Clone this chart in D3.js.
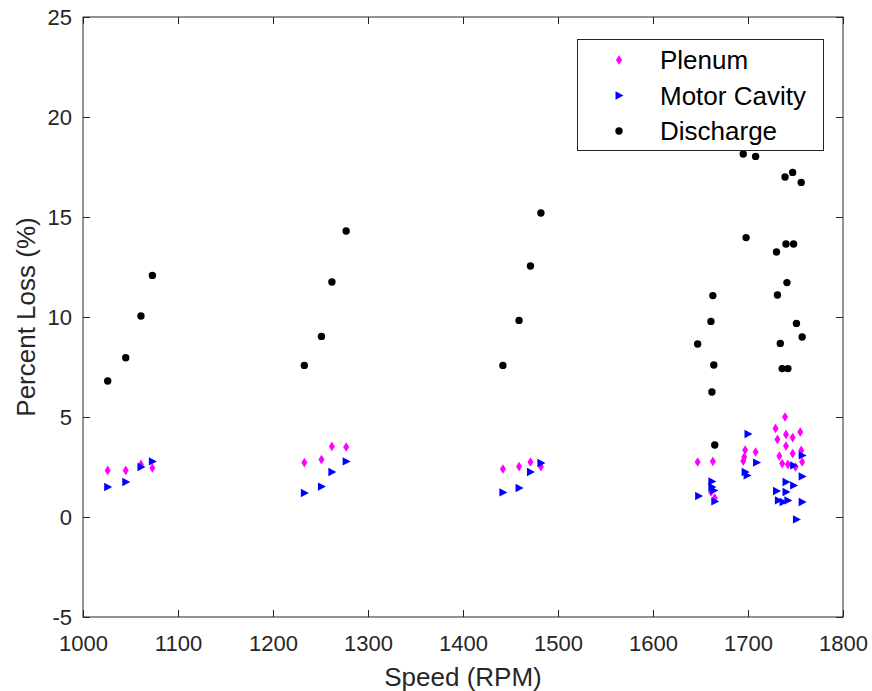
<!DOCTYPE html>
<meta charset="UTF-8">
<style>
  body { margin: 0; background: #fff; }
  svg { display: block; font-family: "Liberation Sans", Arial, sans-serif; }
  .axis path { display: none; }
  .axis line { stroke: #262626; stroke-width: 1px; }
  .axis text { fill: #262626; font-size: 22px; }
  .frame { fill: none; stroke: #262626; stroke-width: 1px; }
  .label { fill: #262626; font-size: 26px; }
  .legend text { fill: #000; font-size: 26px; }
</style>
<body>
  <script src="https://cdn.jsdelivr.net/npm/d3@7"></script>
  <script>
    // values
    var plenumSpeed = [1026, 1045, 1061, 1073, 1233, 1251, 1262, 1277, 1442, 1459, 1471, 1482,
      1647, 1663, 1661, 1665, 1697, 1696, 1695, 1708,
      1739, 1729, 1755, 1740, 1731, 1747, 1740, 1756, 1733, 1747, 1736, 1742, 1757, 1750];
    var plenumLoss = [2.33, 2.33, 2.63, 2.45, 2.72, 2.87, 3.53, 3.5, 2.4, 2.52, 2.75, 2.52,
      2.75, 2.78, 1.25, 0.95, 3.35, 3.0, 2.8, 3.25,
      5.0, 4.43, 4.25, 4.13, 3.88, 3.97, 3.55, 3.33, 3.05, 3.17, 2.67, 2.63, 2.75, 2.5];

    var motorSpeed = [1026, 1045, 1061, 1073, 1233, 1251, 1262, 1277, 1442, 1459, 1471, 1482,
      1662, 1662, 1664, 1648, 1665, 1700, 1709, 1697, 1699,
      1757, 1748, 1757, 1740, 1748, 1730, 1740, 1732, 1737, 1742, 1757, 1751];
    var motorLoss = [1.5, 1.75, 2.5, 2.78, 1.2, 1.52, 2.25, 2.78, 1.23, 1.45, 2.25, 2.7,
      1.78, 1.5, 1.33, 1.05, 0.78, 4.15, 2.72, 2.25, 2.08,
      3.08, 2.58, 2.03, 1.75, 1.58, 1.3, 1.25, 0.83, 0.75, 0.83, 0.75, -0.12];

    var dischargeSpeed = [1026, 1045, 1061, 1073, 1233, 1251, 1262, 1277, 1442, 1459, 1471, 1482,
      1647, 1661, 1663, 1664, 1662, 1665, 1695, 1698, 1708,
      1739, 1747, 1756, 1740, 1748, 1730, 1741, 1731, 1751, 1757, 1734, 1736, 1742];
    var dischargeLoss = [6.8, 7.96, 10.05, 12.08, 7.58, 9.03, 11.75, 14.3, 7.58, 9.83, 12.55, 15.2,
      8.65, 9.78, 11.07, 7.6, 6.25, 3.6, 18.15, 13.97, 18.03,
      17.0, 17.23, 16.73, 13.65, 13.65, 13.25, 11.72, 11.1, 9.68, 9.0, 8.68, 7.42, 7.42];

    var xTicks = [1000, 1100, 1200, 1300, 1400, 1500, 1600, 1700, 1800];
    var yTicks = [-5, 0, 5, 10, 15, 20, 25];
    var seriesNames = ["Plenum", "Motor Cavity", "Discharge"];
    var seriesColors = ["#ff00ff", "#0000ff", "#000000"];

    var W = 872, H = 691;
    var margin = { top: 17, right: 29, bottom: 74, left: 83 },
      width = W - margin.left - margin.right,
      height = H - margin.top - margin.bottom;

    var svg = d3.select("body").append("svg")
      .attr("width", W)
      .attr("height", H);

    var g = svg.append("g")
      .attr("transform", "translate(" + margin.left + "," + margin.top + ")");

    var x = d3.scaleLinear().domain([1000, 1800]).range([0, width]);
    var y = d3.scaleLinear().domain([-5, 25]).range([height, 0]);

    // plain hyphen for negatives, like the original
    var fmt = function(d) { return String(d); };

    // axes, ticks pointing inward like matlab
    g.append("g").attr("class", "axis")
      .attr("transform", "translate(0," + height + ")")
      .call(d3.axisBottom(x).tickValues(xTicks).tickFormat(fmt)
        .tickSizeInner(-7).tickSizeOuter(0).tickPadding(18));
    g.append("g").attr("class", "axis")
      .call(d3.axisTop(x).tickValues(xTicks).tickFormat("")
        .tickSizeInner(-7).tickSizeOuter(0));
    g.append("g").attr("class", "axis")
      .call(d3.axisLeft(y).tickValues(yTicks).tickFormat(fmt)
        .tickSizeInner(-7).tickSizeOuter(0).tickPadding(11));
    g.append("g").attr("class", "axis")
      .attr("transform", "translate(" + width + ",0)")
      .call(d3.axisRight(y).tickValues(yTicks).tickFormat("")
        .tickSizeInner(-7).tickSizeOuter(0));

    g.append("rect").attr("class", "frame")
      .attr("x", 0).attr("y", 0)
      .attr("width", width).attr("height", height);

    // axis titles
    g.append("text").attr("class", "label")
      .attr("x", width / 2).attr("y", height + 69)
      .attr("text-anchor", "middle")
      .text("Speed (RPM)");
    g.append("text").attr("class", "label")
      .attr("transform", "translate(" + (-48) + "," + (height / 2) + ") rotate(-90)")
      .attr("text-anchor", "middle")
      .text("Percent Loss (%)");

    // marker shapes
    var diamond = "M0,-4.8L3,0L0,4.8L-3,0Z";
    var triangle = "M-3.5,-4.2L4.5,0L-3.5,4.2Z";

    function markerPath(k) {
      return k == 0 ? diamond : k == 1 ? triangle : null;
    }

    function drawSeries(speed, loss, k) {
      var pts = speed.map(function(s, i) { return [s, loss[i]]; });
      var sel = g.append("g").selectAll("g").data(pts).enter().append("g")
        .attr("transform", function(d) {
          return "translate(" + x(d[0]) + "," + y(d[1]) + ")";
        });
      if (k == 2) {
        sel.append("circle").attr("r", 3.7).attr("fill", seriesColors[k]);
      } else {
        sel.append("path").attr("d", markerPath(k)).attr("fill", seriesColors[k]);
      }
    }

    drawSeries(plenumSpeed, plenumLoss, 0);
    drawSeries(motorSpeed, motorLoss, 1);
    drawSeries(dischargeSpeed, dischargeLoss, 2);

    // legend
    var legend = svg.append("g").attr("class", "legend");
    legend.append("rect")
      .attr("x", 577.5).attr("y", 39.5)
      .attr("width", 246).attr("height", 111)
      .attr("fill", "#fff").attr("stroke", "#262626").attr("stroke-width", 1);

    seriesNames.forEach(function(name, k) {
      var cy = 60 + k * 35.5;
      var item = legend.append("g").attr("transform", "translate(619," + cy + ")");
      if (k == 2) {
        item.append("circle").attr("r", 3.7).attr("fill", seriesColors[k]);
      } else {
        item.append("path").attr("d", markerPath(k)).attr("fill", seriesColors[k]);
      }
      legend.append("text")
        .attr("x", 660).attr("y", cy)
        .attr("dy", "0.36em")
        .text(name);
    });
  </script>
</body>
